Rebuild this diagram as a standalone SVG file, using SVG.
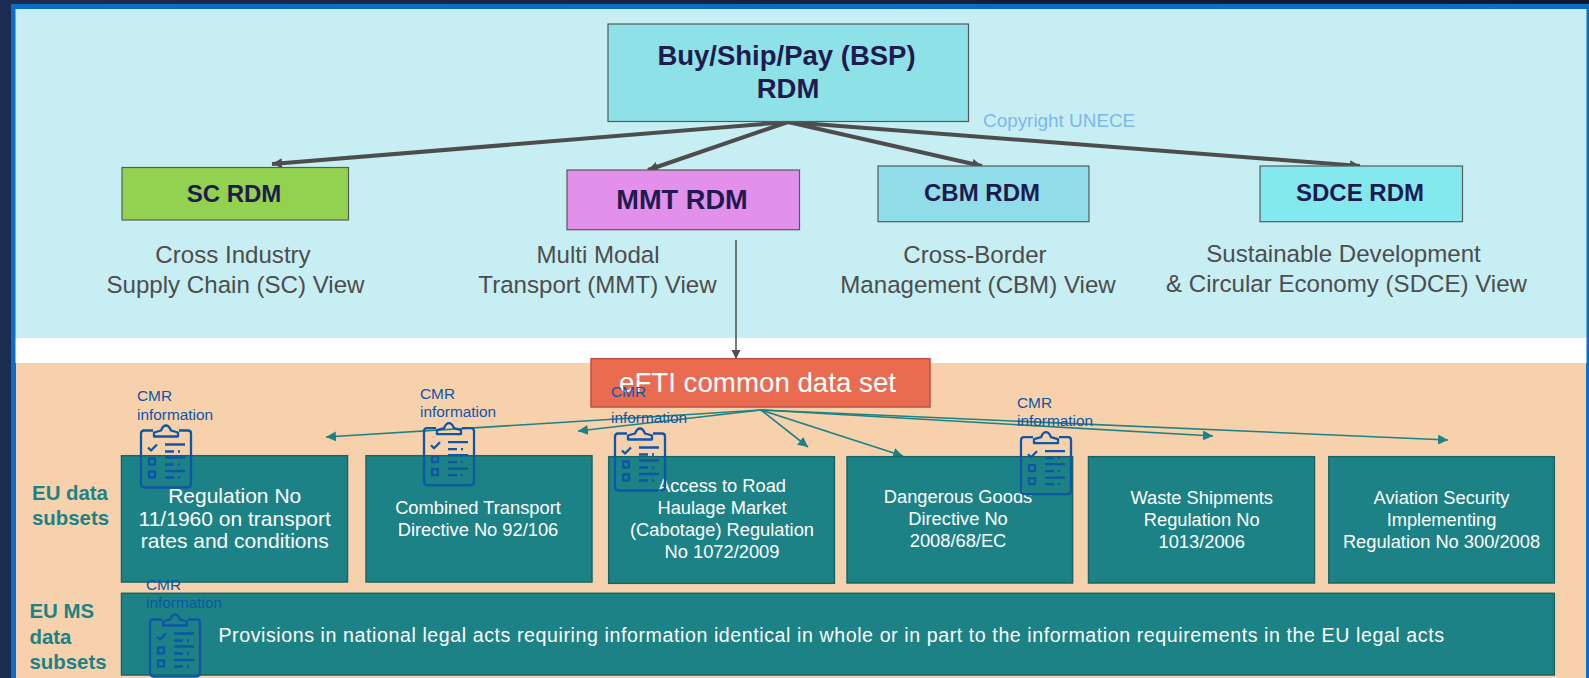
<svg xmlns="http://www.w3.org/2000/svg" width="1589" height="678" viewBox="0 0 1589 678">
<style>
text{font-family:"Liberation Sans",Arial,sans-serif}
.title{font-weight:700;fill:#1f1b4e;text-anchor:middle}
.box{stroke:#555b5b;stroke-width:1.2}
.view{font-size:24.100px;fill:#4d4d4d;text-anchor:middle}
.teal{fill:#1d8285;stroke:#14666a;stroke-width:1.5}
.w{fill:#fff;font-size:18.3px;text-anchor:middle}
.lab{fill:#1d8285;font-weight:700;font-size:20.4px}
.cmr{fill:#0e56a6;font-size:15.4px}
.ic{fill:none;stroke:#0e56a6;stroke-width:2.300;stroke-linejoin:round}
.c1{stroke:#4d4d4d;stroke-width:4;fill:none;marker-end:url(#ad)}
.c2{stroke:#1d8285;stroke-width:1.6;fill:none;marker-end:url(#at)}
</style>
<defs>
<linearGradient id="bg" x1="0" x2="1" y1="0" y2="0"><stop offset="0" stop-color="#1c2b52"/><stop offset="1" stop-color="#0d1830"/></linearGradient>
<marker id="ad" markerUnits="userSpaceOnUse" markerWidth="12" markerHeight="12" refX="10" refY="5" orient="auto"><path d="M0 0L10 5L0 10z" fill="#4d4d4d"/></marker>
<marker id="av" markerUnits="userSpaceOnUse" markerWidth="10" markerHeight="10" refX="8" refY="4.5" orient="auto"><path d="M0 0L9 4.5L0 9z" fill="#4d4d4d"/></marker>
<marker id="at" markerUnits="userSpaceOnUse" markerWidth="12" markerHeight="12" refX="10" refY="5" orient="auto"><path d="M0 0L10 5L0 10z" fill="#1d8285"/></marker>
<symbol id="clip" viewBox="-1 -1 54 64" width="54" height="64" overflow="visible">
<path class="ic" d="M13 5H4Q1 5 1 8V58Q1 62 5 62H47Q51 62 51 58V8Q51 5 48 5H39"/>
<path class="ic" d="M14 11V7L21 5Q23 0 26 0Q29 0 31 5L38 7V11Z"/>
<path class="ic" d="M8 22L11 25L17 19"/>
<path class="ic" d="M25 19H45M25 26H34M38 26H40M25 32H45M25 39H34M38 39H40M25 45.500H45M25 52H34M38 52H40"/>
<rect class="ic" x="9" y="33" width="6" height="6"/>
<rect class="ic" x="9" y="46" width="6" height="6"/>
</symbol>
</defs>
<rect width="1589" height="678" fill="url(#bg)"/>
<rect x="11" y="4" width="1578" height="674" fill="#0a6fc2"/>
<rect x="15.500" y="9" width="1571" height="329" fill="#c7eef3"/>
<rect x="15.500" y="338" width="1571" height="25" fill="#fff"/>
<rect x="16" y="363" width="1570" height="315" fill="#f7d1ac"/>

<g id="connectors">
<path class="c1" d="M788 122L272 164"/>
<path class="c1" d="M788 122L648 170"/>
<path class="c1" d="M788 122L982 166"/>
<path class="c1" d="M788 122L1360 166"/>
<path d="M736 240V358" stroke="#4d4d4d" stroke-width="1.500" fill="none" marker-end="url(#av)"/>
<path class="c2" d="M761 410L326 437"/>
<path class="c2" d="M761 410L578 431"/>
<path class="c2" d="M761 410L808 447"/>
<path class="c2" d="M761 410L903 456"/>
<path class="c2" d="M761 410L1213 436"/>
<path class="c2" d="M761 410L1448 440"/>
</g>

<g id="bsp"><rect class="box" x="608" y="24" width="360.500" height="97.500" fill="#8de1e7"/>
<text class="title" x="786.500" y="65" font-size="27.500">Buy/Ship/Pay (BSP)</text><text class="title" x="788" y="98" font-size="27.500">RDM</text></g>
<g id="sc"><rect class="box" x="122" y="167.500" width="226.500" height="52.500" fill="#93d250"/><text class="title" x="234" y="202" font-size="24">SC RDM</text></g>
<g id="mmt"><rect class="box" x="567" y="170" width="232.500" height="59.700" fill="#e290ec"/><text class="title" x="682" y="208.700" font-size="27.200">MMT RDM</text></g>
<g id="cbm"><rect class="box" x="878" y="166" width="211" height="55.700" fill="#90dde9"/><text class="title" x="982" y="200.700" font-size="24">CBM RDM</text></g>
<g id="sdce"><rect class="box" x="1260" y="166" width="202.500" height="55.700" fill="#84e9ef"/><text class="title" x="1360" y="200.700" font-size="24">SDCE RDM</text></g>

<g id="view-sc"><text class="view" x="233" y="262.700">Cross Industry</text><text class="view" x="235.500" y="292.700">Supply Chain (SC) View</text></g>
<g id="view-mmt"><text class="view" x="598" y="262.700">Multi Modal</text><text class="view" x="597.500" y="293">Transport (MMT) View</text></g>
<g id="view-cbm"><text class="view" x="975" y="262.700">Cross-Border</text><text class="view" x="978" y="293">Management (CBM) View</text></g>
<g id="view-sdce"><text class="view" x="1343.500" y="262">Sustainable Development</text><text class="view" x="1346.500" y="292">&amp; Circular Economy (SDCE) View</text></g>
<g id="copyright"><text x="983" y="126.700" font-size="18.900" fill="#7cb8ec">Copyright UNECE</text></g>

<g id="eu-data-label"><text class="lab" x="70" y="500" text-anchor="middle">EU data</text><text class="lab" x="70.500" y="525" text-anchor="middle">subsets</text></g>
<g id="eu-ms-label"><text class="lab" x="29.500" y="618">EU MS</text><text class="lab" x="29.500" y="644">data</text><text class="lab" x="29.500" y="669">subsets</text></g>

<g id="reg"><rect class="teal" x="121.500" y="455.700" width="226" height="126.300"/><text class="w" style="font-size:21px" x="234.700" y="503.300">Regulation No</text><text class="w" style="font-size:21px" x="234.700" y="526">11/1960 on transport</text><text class="w" style="font-size:21px" x="234.700" y="548">rates and conditions</text></g>
<g id="combined"><rect class="teal" x="366" y="455.700" width="226" height="126.300"/><text class="w" x="478" y="514">Combined Transport</text><text class="w" x="478" y="536">Directive No 92/106</text></g>
<g id="access"><rect class="teal" x="608.700" y="456.700" width="225.700" height="126.600"/><text class="w" x="722" y="492">Access to Road</text><text class="w" x="722" y="514">Haulage Market</text><text class="w" x="722" y="536">(Cabotage) Regulation</text><text class="w" x="722" y="558">No 1072/2009</text></g>
<g id="dangerous"><rect class="teal" x="847" y="456.700" width="225.600" height="126.300"/><text class="w" x="958" y="503">Dangerous Goods</text><text class="w" x="958" y="525">Directive No</text><text class="w" x="958" y="546.700">2008/68/EC</text></g>
<g id="waste"><rect class="teal" x="1088.500" y="456.700" width="226" height="126.300"/><text class="w" x="1201.700" y="504">Waste Shipments</text><text class="w" x="1201.700" y="526">Regulation No</text><text class="w" x="1201.700" y="548">1013/2006</text></g>
<g id="aviation"><rect class="teal" x="1328.800" y="456.700" width="225.500" height="126.300"/><text class="w" x="1441.500" y="504">Aviation Security</text><text class="w" x="1441.500" y="526">Implementing</text><text class="w" x="1441.500" y="548">Regulation No 300/2008</text></g>
<g id="ms"><rect class="teal" x="121.500" y="593.300" width="1432.800" height="81.700"/><text class="w" style="text-anchor:start;font-size:19.600px" x="218.400" y="641.700" textLength="1225.600" lengthAdjust="spacing">Provisions in national legal acts requiring information identical in whole or in part to the information requirements in the EU legal acts</text></g>

<g id="efti"><rect x="591" y="358.700" width="339" height="48.300" fill="#e96c50" stroke="#bf4f42" stroke-width="1.500"/><text x="619" y="391.700" font-size="27.700" fill="#fff">eFTI common data set</text></g>

<g id="cmr1"><text class="cmr" x="137" y="400.700">CMR</text><text class="cmr" x="137" y="419.500">information</text><use href="#clip" x="139" y="424.500"/></g>
<g id="cmr2"><text class="cmr" x="420" y="398.500">CMR</text><text class="cmr" x="420" y="417">information</text><use href="#clip" x="422" y="422.200"/></g>
<g id="cmr3"><text class="cmr" x="611" y="397">CMR</text><text class="cmr" x="611" y="423">information</text><use href="#clip" x="613" y="427.500"/></g>
<g id="cmr4"><text class="cmr" x="1017" y="407.500">CMR</text><text class="cmr" x="1017" y="426">information</text><use href="#clip" x="1019" y="431.200"/></g>
<g id="cmr5"><text class="cmr" x="146" y="590">CMR</text><text class="cmr" x="146" y="608">information</text><use href="#clip" x="148" y="613.500"/></g>
</svg>
